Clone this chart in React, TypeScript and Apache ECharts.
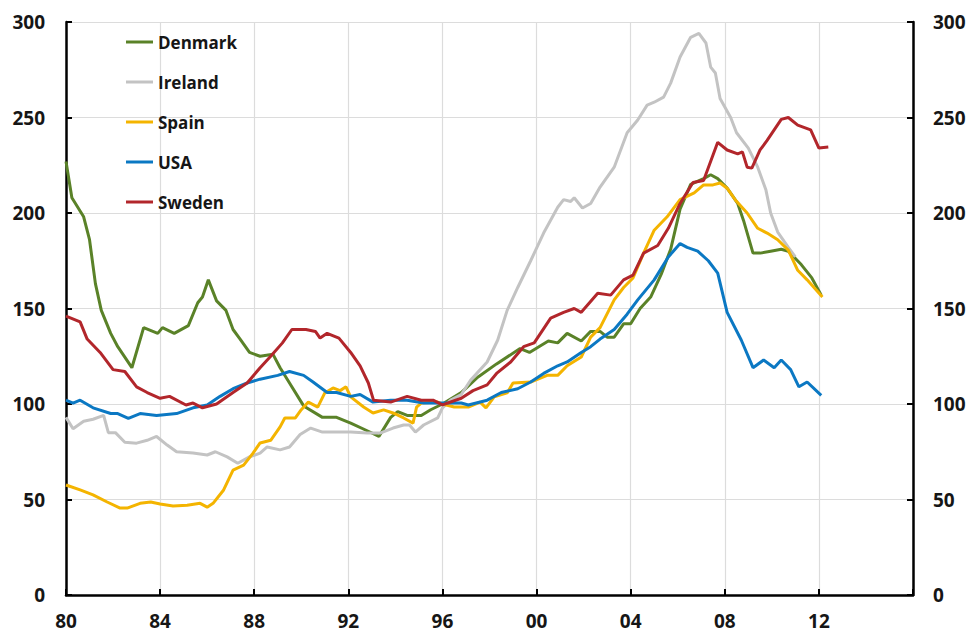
import React, { useEffect, useRef } from "react";
import * as echarts from "echarts";

// x = year (fractional), y = index (1996 = 100)
const xTicks = [1980, 1984, 1988, 1992, 1996, 2000, 2004, 2008, 2012, 2016];
const yTicks = [0, 50, 100, 150, 200, 250, 300];

const denmark: [number, number][] = [
  [1980.0, 227], [1980.25, 208], [1980.75, 198], [1981.0, 186], [1981.25, 163], [1981.5, 149],
  [1981.9, 137], [1982.2, 130], [1982.8, 119], [1983.3, 140], [1983.9, 137], [1984.1, 140],
  [1984.6, 137], [1985.2, 141], [1985.6, 153], [1985.8, 156], [1986.05, 165], [1986.4, 154],
  [1986.8, 149], [1987.1, 139], [1987.4, 134], [1987.8, 127], [1988.25, 125], [1988.8, 126],
  [1989.1, 119], [1989.5, 111], [1990.1, 99], [1990.9, 93], [1991.5, 93], [1992.1, 90],
  [1992.8, 86], [1993.3, 83], [1993.8, 93], [1994.1, 96], [1994.5, 94], [1995.1, 94],
  [1995.5, 97], [1996.0, 100], [1996.8, 106], [1997.5, 114], [1998.3, 121], [1999.3, 129],
  [1999.7, 127], [2000.5, 133], [2000.9, 132], [2001.3, 137], [2001.9, 133], [2002.3, 138],
  [2002.7, 138], [2003.0, 135], [2003.3, 135], [2003.7, 142], [2004.0, 142], [2004.4, 150],
  [2004.85, 156], [2005.3, 168], [2005.7, 181], [2006.1, 202], [2006.55, 215], [2007.1, 218],
  [2007.4, 220], [2007.7, 218], [2008.1, 213], [2008.55, 205], [2008.8, 196], [2009.2, 179],
  [2009.5, 179], [2009.95, 180], [2010.4, 181], [2010.7, 180], [2011.25, 173], [2011.7, 166],
  [2012.1, 157],
];

const ireland: [number, number][] = [
  [1980.0, 93], [1980.3, 87], [1980.75, 91], [1981.15, 92], [1981.6, 94], [1981.8, 85],
  [1982.1, 85], [1982.5, 80], [1983.0, 79.5], [1983.45, 81], [1983.85, 83], [1984.3, 78.5],
  [1984.7, 75], [1985.4, 74.3], [1986.0, 73.3], [1986.35, 75], [1986.85, 72.3], [1987.3, 69],
  [1987.8, 72.3], [1988.25, 74.3], [1988.55, 77.5], [1989.1, 76], [1989.5, 77.5], [1989.95, 84],
  [1990.4, 87.4], [1990.9, 85.3], [1991.5, 85.3], [1992.1, 85.3], [1992.8, 84.8], [1993.35, 84.8],
  [1993.9, 87.4], [1994.35, 89], [1994.6, 89], [1994.85, 85.3], [1995.2, 89], [1995.8, 92.7],
  [1996.0, 98], [1996.35, 102], [1996.8, 105], [1997.2, 112.5], [1997.9, 122], [1998.35, 133.5],
  [1998.75, 149], [1999.2, 161], [1999.75, 175], [2000.3, 189.5], [2000.9, 203], [2001.15, 207],
  [2001.45, 206], [2001.6, 208], [2001.95, 202.6], [2002.3, 205], [2002.7, 213.6], [2003.3, 224],
  [2003.85, 242], [2004.3, 248.7], [2004.7, 256.5], [2005.0, 258], [2005.4, 260.7], [2005.7, 268],
  [2006.1, 281.7], [2006.55, 292], [2006.9, 294], [2007.2, 289], [2007.4, 276.4], [2007.6, 273.3],
  [2007.8, 260], [2008.25, 250], [2008.5, 242], [2009.0, 234], [2009.4, 224], [2009.75, 212],
  [2009.95, 200], [2010.25, 190], [2010.7, 182], [2011.0, 177],
];

const spain: [number, number][] = [
  [1980.0, 57.6], [1980.6, 55], [1981.15, 52.4], [1981.75, 48.7], [1982.3, 45.5], [1982.6, 45.5],
  [1983.15, 48], [1983.6, 48.7], [1984.0, 47.6], [1984.55, 46.6], [1985.15, 47], [1985.7, 48],
  [1986.0, 46], [1986.25, 48], [1986.7, 55], [1987.1, 65.4], [1987.55, 68], [1987.95, 74.3],
  [1988.25, 79.6], [1988.7, 81], [1989.1, 88], [1989.3, 92.7], [1989.75, 92.7], [1990.0, 97],
  [1990.3, 101], [1990.7, 98.4], [1991.0, 105.8], [1991.35, 108.4], [1991.65, 107], [1991.9, 109],
  [1992.1, 103.7], [1992.65, 98.4], [1993.05, 95.3], [1993.5, 96.9], [1993.9, 95.3], [1994.35, 92.7],
  [1994.75, 90], [1994.9, 98.4], [1995.1, 100.5], [1995.8, 101], [1996.0, 100], [1996.5, 98.4],
  [1997.1, 98.4], [1997.6, 101], [1997.85, 98], [1998.2, 103.7], [1998.75, 105.8], [1999.0, 111],
  [1999.75, 111.5], [2000.45, 115], [2000.9, 115], [2001.3, 120], [2001.9, 124.6], [2002.3, 135],
  [2002.7, 140], [2003.3, 154.5], [2003.7, 161], [2004.1, 166], [2004.55, 179], [2005.0, 191],
  [2005.55, 198], [2006.1, 207], [2006.7, 210.5], [2007.1, 214.7], [2007.5, 214.7], [2007.8, 215.7],
  [2008.1, 213], [2008.45, 206.8], [2008.95, 200], [2009.4, 192], [2009.8, 189.5], [2010.25, 186],
  [2010.7, 180.6], [2011.1, 170], [2011.5, 165], [2012.15, 156],
];

const usa: [number, number][] = [
  [1980.0, 102], [1980.3, 100.5], [1980.6, 102], [1981.15, 98], [1981.9, 95], [1982.2, 95],
  [1982.65, 92.5], [1983.15, 95], [1983.85, 94], [1984.7, 95], [1985.4, 98], [1986.0, 99.5],
  [1986.55, 104], [1987.1, 108], [1987.7, 111], [1988.25, 113], [1989.0, 115], [1989.5, 117],
  [1990.1, 115], [1990.5, 111.5], [1991.1, 106], [1991.5, 106], [1992.1, 104], [1992.5, 105],
  [1993.05, 101], [1993.8, 102], [1994.5, 102], [1995.2, 100.5], [1996.0, 100.5], [1996.8, 100.5],
  [1997.1, 99.5], [1997.9, 102], [1998.5, 106], [1999.2, 108], [1999.75, 111.5], [2000.3, 116],
  [2000.9, 120], [2001.3, 122], [2001.9, 127], [2002.3, 130], [2002.7, 134], [2003.3, 139],
  [2003.85, 147], [2004.3, 154.5], [2005.0, 165], [2005.6, 177], [2006.1, 184], [2006.4, 182],
  [2006.85, 180], [2007.3, 175], [2007.7, 168.5], [2008.1, 148], [2008.7, 133.5], [2009.2, 119],
  [2009.65, 123], [2010.1, 119], [2010.4, 123], [2010.8, 118], [2011.15, 109], [2011.5, 111.5],
  [2012.1, 104.5],
];

const sweden: [number, number][] = [
  [1980.0, 146], [1980.6, 143], [1980.9, 134], [1981.45, 127], [1982.0, 118], [1982.5, 117],
  [1983.0, 109], [1983.45, 106], [1984.0, 103], [1984.4, 104], [1985.1, 99.5], [1985.4, 100.5],
  [1985.8, 98], [1986.4, 100], [1987.1, 106], [1987.7, 111], [1988.25, 119], [1988.7, 125],
  [1989.2, 132], [1989.6, 139], [1990.2, 139], [1990.6, 138], [1990.8, 134.5], [1991.1, 137],
  [1991.6, 134.5], [1992.1, 127], [1992.5, 120], [1992.85, 111], [1993.07, 102], [1993.8, 101],
  [1994.5, 104], [1995.1, 102], [1995.6, 102], [1996.0, 99.5], [1996.8, 103], [1997.3, 107],
  [1997.9, 110], [1998.3, 116], [1998.9, 122], [1999.45, 130], [1999.9, 132], [2000.6, 145],
  [2001.15, 148], [2001.6, 150], [2001.9, 148], [2002.6, 158], [2003.15, 157], [2003.7, 165],
  [2004.1, 167.5], [2004.55, 179], [2005.15, 183], [2005.6, 192], [2006.1, 205], [2006.65, 216],
  [2007.1, 217], [2007.7, 237], [2008.1, 233], [2008.55, 231], [2008.75, 232], [2008.95, 224],
  [2009.15, 223.5], [2009.5, 233], [2009.8, 238], [2010.4, 249], [2010.7, 250], [2011.1, 246],
  [2011.65, 243.5], [2012.0, 234], [2012.4, 234.5],
];

const seriesNames = ["Denmark", "Ireland", "Spain", "USA", "Sweden"];
const seriesData = [denmark, ireland, spain, usa, sweden];
const seriesColors = ["#5a8228", "#c3c3c3", "#f4b400", "#0b78c3", "#b2262b"];

const FONT = "'Open Sans', 'Noto Sans', sans-serif";

export default function App() {
  const ref = useRef<HTMLDivElement>(null);

  useEffect(() => {
    document.body.style.margin = "0";
    if (!ref.current) return;
    const chart = echarts.init(ref.current, null, { renderer: "svg" });
    const labelStyle = {
      fontFamily: FONT,
      fontWeight: "bold" as const,
      fontSize: 19,
      color: "#161616",
    };
    const yAxisCommon = {
      type: "value" as const,
      min: yTicks[0],
      max: yTicks[yTicks.length - 1],
      interval: 50,
      axisLine: { show: true, lineStyle: { color: "#000", width: 2.5 } },
      axisTick: { show: true, inside: true, length: 6, lineStyle: { color: "#000", width: 2 } },
    };
    chart.setOption({
      animation: false,
      backgroundColor: "#fff",
      grid: { left: 66, right: 59, top: 22, bottom: 37, containLabel: false },
      legend: {
        orient: "vertical",
        left: 121,
        top: 28,
        itemWidth: 27,
        itemHeight: 3,
        itemGap: 22,
        icon: "rect",
        selectedMode: false,
        data: seriesNames,
        textStyle: {
          fontFamily: FONT,
          fontWeight: "bold",
          fontSize: 17,
          lineHeight: 18,
          color: "#161616",
        },
      },
      xAxis: {
        type: "value",
        min: xTicks[0],
        max: xTicks[xTicks.length - 1],
        interval: 4,
        axisLine: { show: true, onZero: false, lineStyle: { color: "#000", width: 2.5 } },
        axisTick: { show: true, inside: true, length: 6, lineStyle: { color: "#000", width: 2 } },
        splitLine: { show: true, lineStyle: { color: "#dcdcdc", width: 1.2 } },
        axisLabel: {
          ...labelStyle,
          margin: 16,
          formatter: (v: number) =>
            v >= xTicks[xTicks.length - 1] ? "" : String(Math.round(v) % 100).padStart(2, "0"),
        },
      },
      yAxis: [
        {
          ...yAxisCommon,
          position: "left",
          splitLine: { show: true, lineStyle: { color: "#dcdcdc", width: 1.2 } },
          axisLabel: { ...labelStyle, margin: 21 },
        },
        {
          ...yAxisCommon,
          position: "right",
          splitLine: { show: false },
          axisLabel: { ...labelStyle, margin: 20 },
        },
      ],
      series: seriesNames.map((name, i) => ({
        name,
        type: "line",
        data: seriesData[i],
        yAxisIndex: 0,
        showSymbol: false,
        symbol: "none",
        color: seriesColors[i],
        lineStyle: { width: 3, color: seriesColors[i] },
        z: 2 + i,
      })),
    });
    return () => chart.dispose();
  }, []);

  return <div ref={ref} style={{ width: 972, height: 632 }} />;
}
